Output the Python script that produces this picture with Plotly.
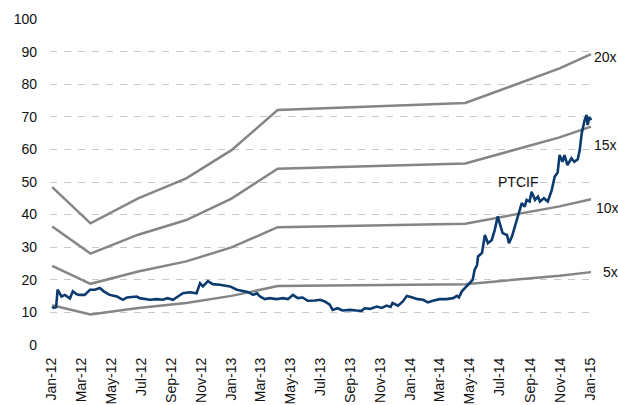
import plotly.graph_objects as go

# ---------------- data ----------------
ptcif_dates = [
    "2012-01-02", "2012-01-05", "2012-01-10", "2012-01-13", "2012-01-21", "2012-01-28",
    "2012-02-07", "2012-02-13", "2012-02-21", "2012-02-27", "2012-03-08", "2012-03-19",
    "2012-03-29", "2012-04-08", "2012-04-16", "2012-04-28", "2012-05-13", "2012-05-25",
    "2012-06-02", "2012-06-22", "2012-06-28", "2012-07-19", "2012-08-02", "2012-08-14",
    "2012-08-24", "2012-09-04", "2012-09-14", "2012-09-24", "2012-10-08", "2012-10-22",
    "2012-10-29", "2012-11-04", "2012-11-14", "2012-11-24", "2012-12-08", "2012-12-19",
    "2012-12-29", "2013-01-12", "2013-01-22", "2013-02-03", "2013-02-14", "2013-02-22",
    "2013-02-28", "2013-03-10", "2013-03-20", "2013-04-03", "2013-04-16", "2013-04-26",
    "2013-05-06", "2013-05-16", "2013-05-26", "2013-06-05", "2013-06-20", "2013-06-30",
    "2013-07-10", "2013-07-20", "2013-07-26", "2013-08-05", "2013-08-15", "2013-08-30",
    "2013-09-13", "2013-09-23", "2013-09-29", "2013-10-10", "2013-10-24", "2013-11-03",
    "2013-11-13", "2013-11-21", "2013-11-25", "2013-12-06", "2013-12-16", "2013-12-24",
    "2014-01-03", "2014-01-15", "2014-01-26", "2014-02-05", "2014-02-15", "2014-03-01",
    "2014-03-15", "2014-03-28", "2014-04-05", "2014-04-09", "2014-04-15", "2014-04-21",
    "2014-05-01", "2014-05-07", "2014-05-11", "2014-05-16", "2014-05-18", "2014-05-26",
    "2014-06-01", "2014-06-07", "2014-06-15", "2014-06-21", "2014-06-27", "2014-07-01",
    "2014-07-07", "2014-07-16", "2014-07-20", "2014-07-26", "2014-08-01", "2014-08-07",
    "2014-08-15", "2014-08-21", "2014-08-25", "2014-08-31", "2014-09-04", "2014-09-11",
    "2014-09-17", "2014-09-21", "2014-09-29", "2014-10-07", "2014-10-15", "2014-10-21",
    "2014-10-27", "2014-10-31", "2014-11-06", "2014-11-10", "2014-11-16", "2014-11-24",
    "2014-11-30", "2014-12-07", "2014-12-11", "2014-12-15", "2014-12-17", "2014-12-21",
    "2014-12-25", "2014-12-27", "2014-12-31", "2015-01-03",
]
ptcif_values = [
    11.7, 11.3, 11.5, 16.9, 14.8, 15.3,
    14.2, 16.4, 15.5, 15.3, 15.3, 16.9,
    16.9, 17.4, 16.4, 15.3, 14.8, 13.8,
    14.5, 14.8, 14.3, 13.8, 14.0, 13.8,
    14.3, 13.8, 14.8, 15.8, 16.1, 15.8,
    18.9, 17.9, 19.5, 18.6, 18.4, 18.2,
    17.9, 16.9, 16.5, 16.2, 15.3, 15.8,
    14.8, 14.0, 14.3, 14.0, 14.3, 14.0,
    15.3, 14.3, 14.5, 13.5, 13.6, 13.8,
    13.3, 12.3, 10.7, 11.2, 10.5, 10.7,
    10.5, 10.4, 11.2, 11.0, 11.7, 11.3,
    12.0, 11.6, 12.8, 12.0, 13.3, 15.0,
    14.6, 14.0, 13.8, 13.0, 13.5, 14.0,
    14.0, 14.3, 15.0, 14.5, 16.4, 17.4,
    18.9, 19.9, 23.0, 24.5, 27.1, 28.2,
    33.7, 31.2, 32.2, 35.3, 39.4, 37.3,
    34.3, 33.7, 31.2, 33.2, 36.3, 39.4,
    43.5, 42.4, 44.5, 44.0, 47.0, 44.5,
    45.5, 44.0, 45.0, 44.0, 47.5, 51.6,
    52.9, 58.3, 56.2, 58.3, 55.2, 57.3,
    56.2, 57.0, 59.8, 64.9, 66.5, 69.0,
    70.6, 67.5, 70.0, 69.0,
]

band_dates = ["2012-01-02", "2012-03-20", "2012-06-25", "2012-10-01", "2013-01-01",
              "2013-04-05", "2014-04-22", "2014-10-31", "2015-01-03"]
band_20x = [48.4, 37.3, 45.0, 51.1, 59.8, 72.1, 74.3, 84.9, 89.3]
band_15x = [36.3, 28.0, 33.8, 38.3, 44.9, 54.1, 55.7, 63.7, 67.0]
band_10x = [24.2, 18.7, 22.5, 25.6, 29.9, 36.1, 37.2, 42.5, 44.7]
band_5x = [12.1, 9.3, 11.3, 12.8, 15.0, 18.0, 18.6, 21.2, 22.3]

band_labels = ["20x", "15x", "10x", "5x"]
band_series = [band_20x, band_15x, band_10x, band_5x]
y_ticks = [0, 10, 20, 30, 40, 50, 60, 70, 80, 90, 100]

# ---------------- figure ----------------
FONT = "Liberation Sans, Arial, sans-serif"
FS = 14
GREY = "#858585"
NAVY = "#0b3a6e"
TXT = "#111111"

label_shift = {"20x": (1, -3), "15x": (1, -18), "10x": (3, -9), "5x": (10, 0)}

fig = go.Figure()
for name, vals in zip(band_labels, band_series):
    fig.add_trace(go.Scatter(x=band_dates, y=vals, mode="lines", name=name,
                             line=dict(color=GREY, width=2.5), showlegend=False))
    dx, dy = label_shift[name]
    fig.add_annotation(x=band_dates[-1], y=vals[-1], text=name, showarrow=False,
                       xanchor="left", xshift=dx, yanchor="middle", yshift=dy,
                       font=dict(family=FONT, size=FS, color=TXT))

fig.add_trace(go.Scatter(x=ptcif_dates, y=ptcif_values, mode="lines", name="PTCIF",
                         line=dict(color=NAVY, width=2.6), showlegend=False))
fig.add_annotation(x="2014-08-07", y=50, text="PTCIF", showarrow=False,
                   xanchor="center", yanchor="middle",
                   font=dict(family=FONT, size=FS, color=TXT))

fig.update_layout(
    width=618, height=405,
    margin=dict(l=50, r=26, t=19, b=60),
    plot_bgcolor="white", paper_bgcolor="white",
    font=dict(family=FONT, size=FS, color=TXT),
)
fig.update_xaxes(
    type="date", automargin=False,
    range=["2011-12-28 13:00", "2015-01-05"],
    tick0="2012-01-01", dtick="M2", tickformat="%b-%y",
    tickangle=-90, showgrid=False, showline=False, zeroline=False,
    ticks="", ticklabelstandoff=9,
    tickfont=dict(family=FONT, size=FS, color=TXT),
)
fig.update_yaxes(
    automargin=False,
    range=[-0.1, 100.1], tickvals=y_ticks,
    showgrid=True, gridcolor="#c8c8c8", gridwidth=1, griddash="7px,7px",
    zeroline=False, showline=False, ticks="", ticklabelstandoff=12,
    tickfont=dict(family=FONT, size=FS, color=TXT),
)

fig.write_html("out.html")
